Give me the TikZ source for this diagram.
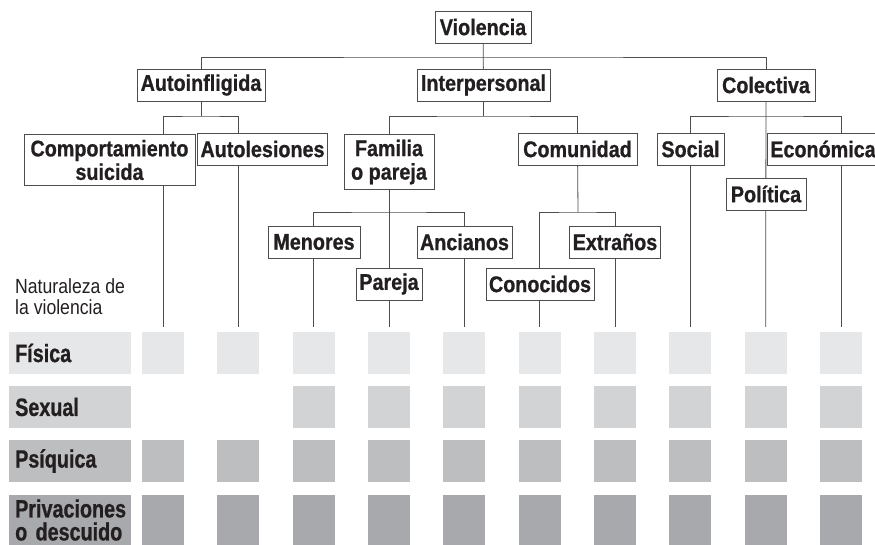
\documentclass[tikz,border=0pt]{standalone}
\usepackage{fontspec}
\setmainfont{Liberation Sans}
\newfontfamily\treefont{Liberation Sans}[FakeStretch=0.87, BoldFeatures={FakeBold=0.8}]
\newfontfamily\rowfont{Liberation Sans}[FakeStretch=0.79, BoldFeatures={FakeBold=0.8}]
\newfontfamily\notefont{Liberation Sans}[FakeStretch=0.86]
\usepackage{tikz}
\usetikzlibrary{backgrounds}
\definecolor{ink}{HTML}{231F20}
\definecolor{wire}{HTML}{4D4D4F}
\definecolor{shadeA}{HTML}{E6E7E8}
\definecolor{shadeB}{HTML}{D1D3D4}
\definecolor{shadeC}{HTML}{BCBEC0}
\definecolor{shadeD}{HTML}{A7A9AC}

\begin{document}
\begin{tikzpicture}[x=1pt,y=-1pt,
    tbox/.style={draw=wire, fill=white, line width=0.9pt, text=ink,
      font=\treefont\bfseries\fontsize{22.7}{23.5}\selectfont,
      inner xsep=3pt, inner ysep=5pt, minimum height=32pt, align=center},
    rowlab/.style={anchor=west, text=ink, font=\rowfont\bfseries\fontsize{25}{23}\selectfont,
      text width=110pt, inner xsep=6pt, inner ysep=0pt, align=left},
    sq/.style={minimum size=42pt, inner sep=0pt},
    wirel/.style={draw=wire, line width=0.8pt}]
    \useasboundingbox (0,0) rectangle (875,545);

    \node[anchor=north west, inner sep=0pt, text=ink, align=left,
      font=\notefont\fontsize{20.5}{21.5}\selectfont] (nota) at (15,278) {Naturaleza de\\la violencia};

    \foreach \r/\y/\h/\col/\lab/\first in {1/353/42/shadeA/Física/1, 2/407/42/shadeB/Sexual/3,
        3/461/42/shadeC/Psíquica/1, 4/520/50/shadeD/{Privaciones\\o descuido}/1} {
        \node[rowlab, fill=\col, minimum height=\h pt] (lab\r) at (9,\y) {\lab};
        \foreach \c in {\first,...,10}
            \node[sq, fill=\col, minimum height=\h pt] (s\r-\c) at ({163+75.33*(\c-1)},\y) {};
    }

    \node[tbox, minimum width=96pt] (viol) at (483,27) {Violencia};
    \node[tbox, minimum width=128pt] (auto) at (201,85) {Autoinfligida};
    \node[tbox, minimum width=133pt] (inter) at (483.5,85) {Interpersonal};
    \node[tbox, minimum width=98pt] (colec) at (766,85) {Colectiva};
    \node[tbox, minimum width=171pt] (comp) at (109.5,160) {Comportamiento\\suicida};
    \node[tbox, minimum width=127pt] (autol) at (262.5,149) {Autolesiones};
    \node[tbox, minimum width=90pt] (fam) at (389,162) {Familia\\o pareja};
    \node[tbox, minimum width=119pt] (comu) at (577.5,149) {Comunidad};
    \node[tbox, minimum width=67pt] (social) at (690.5,149) {Social};
    \node[tbox, minimum width=102pt] (econ) at (823,149) {Económica};
    \node[tbox, minimum width=80pt] (poli) at (766,194) {Política};
    \node[tbox, minimum width=92pt] (menores) at (314,242) {Menores};
    \node[tbox, minimum width=95pt] (ancianos) at (464.5,242) {Ancianos};
    \node[tbox, minimum width=66pt] (pareja) at (389,284) {Pareja};
    \node[tbox, minimum width=90pt] (extr) at (615,242) {Extraños};
    \node[tbox, minimum width=108pt] (conoc) at (540,284) {Conocidos};

    \begin{scope}[on background layer]
        \coordinate (vb) at (483,57);
        \coordinate (ab) at (201,116);
        \coordinate (fb) at (389,212);
        \coordinate (cb) at (578,212);
        \coordinate (kb) at (766,116);
        \draw[wirel] (viol) -- (inter);
        \draw[wirel] (auto) |- (vb) -| (colec);
        \draw[wirel] (auto) -- (ab);
        \draw[wirel] ([yshift=5pt]s1-1.north) |- (ab) -| ([yshift=5pt]s1-2.north);
        \draw[wirel] ([yshift=5pt]s1-4.north) |- (inter |- ab) -| (comu);
        \draw[wirel] (inter) -- (inter |- ab);
        \draw[wirel] ([yshift=5pt]s1-3.north) |- (fb) -| ([yshift=5pt]s1-5.north);
        \draw[wirel] (comu) -- (cb);
        \draw[wirel] ([yshift=5pt]s1-6.north) |- (cb) -| ([yshift=5pt]s1-7.north);
        \draw[wirel] ([yshift=5pt]s1-8.north) |- (kb) -| ([yshift=5pt]s1-10.north);
        \draw[wirel] (colec) -- ([yshift=5pt]s1-9.north);
    \end{scope}
\end{tikzpicture}
\end{document}
